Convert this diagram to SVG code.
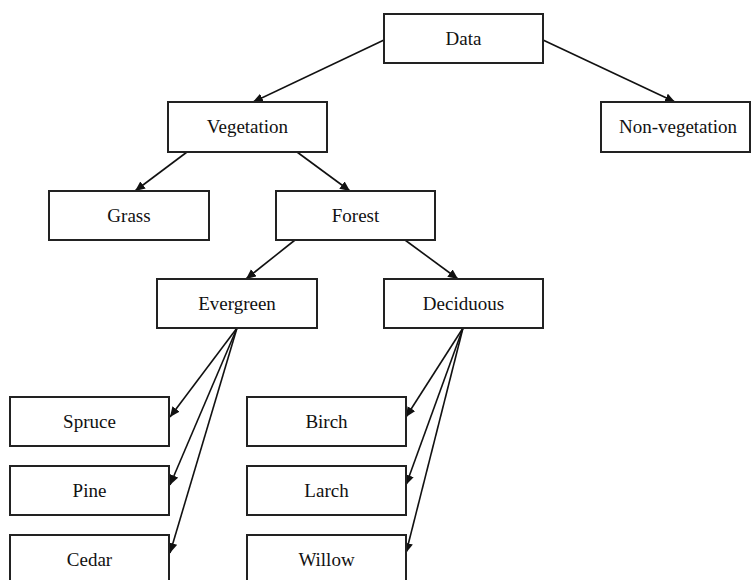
<svg xmlns="http://www.w3.org/2000/svg" width="752" height="580" viewBox="0 0 752 580">
<defs>
<marker id="ah" markerUnits="userSpaceOnUse" markerWidth="12" markerHeight="10" refX="10" refY="4.5" orient="auto">
<path d="M0,0 L10,4.5 L0,9 z" fill="#111"/>
</marker>
<style>
.box{fill:#fff;stroke:#222;stroke-width:2}
.lbl{font-family:"Liberation Serif","Times New Roman",serif;font-size:19px;fill:#111;text-anchor:middle}
.edge{stroke:#111;stroke-width:1.6;fill:none;marker-end:url(#ah)}
</style>
</defs>
<rect width="752" height="580" fill="#fff"/>
<g id="connectors">
<line class="edge" x1="384" y1="40" x2="253" y2="102"/>
<line class="edge" x1="543" y1="40" x2="675" y2="102"/>
<line class="edge" x1="187" y1="152" x2="135" y2="191"/>
<line class="edge" x1="297" y1="152" x2="350" y2="191"/>
<line class="edge" x1="295" y1="240" x2="246" y2="279"/>
<line class="edge" x1="405" y1="240" x2="458" y2="279"/>
<line class="edge" x1="237" y1="328" x2="170" y2="417"/>
<line class="edge" x1="237" y1="328" x2="170" y2="485"/>
<line class="edge" x1="237" y1="328" x2="170" y2="553"/>
<line class="edge" x1="463" y1="328" x2="406" y2="417"/>
<line class="edge" x1="463" y1="328" x2="406" y2="485"/>
<line class="edge" x1="463" y1="328" x2="406" y2="553"/>
</g>
<g id="data"><rect class="box" x="384" y="14" width="159" height="49"/><text class="lbl" x="463.5" y="45">Data</text></g>
<g id="nonveg"><rect class="box" x="601" y="102" width="149" height="50"/><text class="lbl" x="678" y="133">Non-vegetation</text></g>
<g id="vegetation"><rect class="box" x="168" y="102" width="159" height="50"/><text class="lbl" x="247.5" y="133">Vegetation</text></g>
<g id="grass"><rect class="box" x="49" y="191" width="160" height="49"/><text class="lbl" x="129" y="221.5">Grass</text></g>
<g id="forest"><rect class="box" x="276" y="191" width="159" height="49"/><text class="lbl" x="355.5" y="221.5">Forest</text></g>
<g id="evergreen"><rect class="box" x="157" y="279" width="160" height="49"/><text class="lbl" x="237" y="309.5">Evergreen</text></g>
<g id="deciduous"><rect class="box" x="384" y="279" width="159" height="49"/><text class="lbl" x="463.5" y="309.5">Deciduous</text></g>
<g id="spruce"><rect class="box" x="10" y="397" width="159" height="49"/><text class="lbl" x="89.5" y="427.5">Spruce</text></g>
<g id="pine"><rect class="box" x="10" y="466" width="159" height="49"/><text class="lbl" x="89.5" y="496.5">Pine</text></g>
<g id="cedar"><rect class="box" x="10" y="535" width="159" height="49"/><text class="lbl" x="89.5" y="565.5">Cedar</text></g>
<g id="birch"><rect class="box" x="247" y="397" width="159" height="49"/><text class="lbl" x="326.5" y="427.5">Birch</text></g>
<g id="larch"><rect class="box" x="247" y="466" width="159" height="49"/><text class="lbl" x="326.5" y="496.5">Larch</text></g>
<g id="willow"><rect class="box" x="247" y="535" width="159" height="49"/><text class="lbl" x="326.5" y="565.5">Willow</text></g>
</svg>
